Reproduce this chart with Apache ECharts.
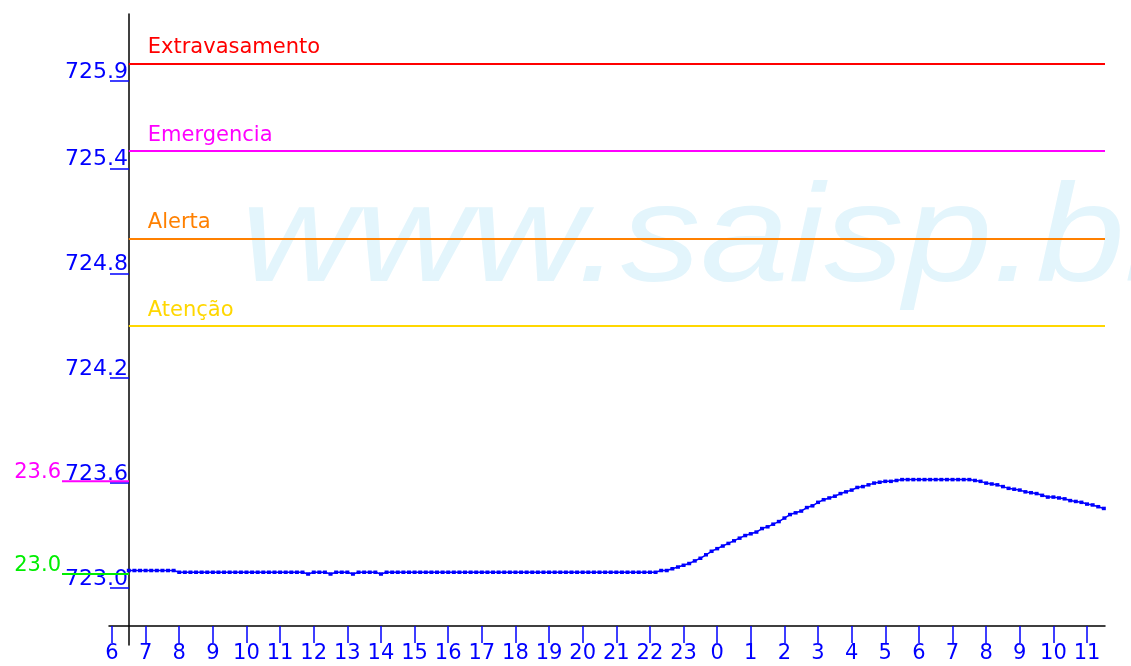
<!DOCTYPE html>
<html><head><meta charset="utf-8">
<script src="https://cdn.jsdelivr.net/npm/echarts@6/dist/echarts.min.js"></script>
<style>html,body{margin:0;padding:0;background:#fff}#c{width:1131px;height:666px}</style>
</head><body><div id="c"></div>
<script>
// time of first reading (hours since 00:00 of day 1) and spacing (10 min)
const startHour = 6.5;
const stepHours = 1 / 6;
// water level readings (m), one row per hour
const levels = [
  723.10, 723.10, 723.10,                               // 06:30-06:50
  723.10, 723.10, 723.10, 723.10, 723.10, 723.10,       // 07
  723.09, 723.09, 723.09, 723.09, 723.09, 723.09,       // 08
  723.09, 723.09, 723.09, 723.09, 723.09, 723.09,       // 09
  723.09, 723.09, 723.09, 723.09, 723.09, 723.09,       // 10
  723.09, 723.09, 723.09, 723.09, 723.09, 723.08,       // 11
  723.09, 723.09, 723.09, 723.08, 723.09, 723.09,       // 12
  723.09, 723.08, 723.09, 723.09, 723.09, 723.09,       // 13
  723.08, 723.09, 723.09, 723.09, 723.09, 723.09,       // 14
  723.09, 723.09, 723.09, 723.09, 723.09, 723.09,       // 15
  723.09, 723.09, 723.09, 723.09, 723.09, 723.09,       // 16
  723.09, 723.09, 723.09, 723.09, 723.09, 723.09,       // 17
  723.09, 723.09, 723.09, 723.09, 723.09, 723.09,       // 18
  723.09, 723.09, 723.09, 723.09, 723.09, 723.09,       // 19
  723.09, 723.09, 723.09, 723.09, 723.09, 723.09,       // 20
  723.09, 723.09, 723.09, 723.09, 723.09, 723.09,       // 21
  723.09, 723.09, 723.10, 723.10, 723.11, 723.12,       // 22
  723.13, 723.14, 723.155, 723.17, 723.19, 723.21,      // 23
  723.225, 723.24, 723.255, 723.27, 723.285, 723.30,    // 00
  723.31, 723.32, 723.34, 723.35, 723.365, 723.38,      // 01
  723.40, 723.42, 723.43, 723.44, 723.46, 723.47,       // 02
  723.49, 723.505, 723.515, 723.525, 723.54, 723.55,    // 03
  723.56, 723.575, 723.58, 723.59, 723.60, 723.605,     // 04
  723.61, 723.61, 723.615, 723.62, 723.62, 723.62,      // 05
  723.62, 723.62, 723.62, 723.62, 723.62, 723.62,       // 06
  723.62, 723.62, 723.62, 723.62, 723.615, 723.61,      // 07
  723.60, 723.595, 723.59, 723.58, 723.57, 723.565,     // 08
  723.56, 723.55, 723.545, 723.54, 723.53, 723.52,      // 09
  723.52, 723.515, 723.51, 723.50, 723.495, 723.49,     // 10
  723.48, 723.475, 723.465, 723.455                     // 11:00-11:30
];
const yTickValues = [723.0, 723.6, 724.2, 724.8, 725.4, 725.9];
const xTickHours = [6,7,8,9,10,11,12,13,14,15,16,17,18,19,20,21,22,23,24,25,26,27,28,29,30,31,32,33,34,35];
const levelNames = ['Extravasamento', 'Emergencia', 'Alerta', 'Atenção'];
const levelValues = [726.0, 725.5, 725.0, 724.5];
const levelColors = ['#ff0000', '#ff00ff', '#ff8000', '#ffd700'];
const extremeLabels = ['23.6', '23.0'];
const extremeValues = [723.61, 723.08];
const extremeColors = ['#ff00ff', '#00ee00'];
const watermark = 'www.saisp.br';

const FONT = 'DejaVu Sans';
const BLUE = '#0000ff';
const xMin = 5.911, xMax = 35.535;
const yMin = 722.674, yMax = 726.283;

const chart = echarts.init(document.getElementById('c'), null, {renderer: 'canvas'});
const seriesData = levels.map((v, i) => [startHour + i * stepHours, v]);

chart.setOption({
  animation: false,
  backgroundColor: '#ffffff',
  grid: {left: 109, right: 26, top: 14, bottom: 21, containLabel: false},
  xAxis: {
    type: 'value', min: xMin, max: xMax, position: 'bottom', offset: -19,
    axisLine: {onZero: false, lineStyle: {color: '#000', width: 1.5}},
    axisTick: {show: true, length: 17, inside: false, customValues: xTickHours, lineStyle: {color: BLUE, width: 1.5}},
    axisLabel: {customValues: xTickHours, margin: 17, color: BLUE, fontFamily: FONT, fontSize: 21,
      formatter: v => String(Math.round(v) % 24)},
    splitLine: {show: false}
  },
  yAxis: {
    type: 'value', min: yMin, max: yMax, position: 'left', offset: -20,
    axisLine: {show: true, onZero: false, lineStyle: {color: '#000', width: 1.5}},
    axisTick: {show: true, length: 19, customValues: yTickValues, lineStyle: {color: BLUE, width: 1.5}},
    axisLabel: {customValues: yTickValues, margin: 1, color: BLUE, fontFamily: FONT, fontSize: 22,
      verticalAlign: 'bottom', padding: [0, 0, -2, 0], formatter: v => v.toFixed(1)},
    splitLine: {show: false}
  },
  series: [{
    type: 'line',
    data: seriesData,
    symbol: 'rect', symbolSize: [4, 3.5], showSymbol: true,
    itemStyle: {color: BLUE},
    lineStyle: {color: BLUE, width: 1.5},
    z: 5,
    markLine: {
      silent: true, symbol: 'none', animation: false, z: 3,
      data: levelValues.map((v, i) => [
        {name: levelNames[i], coord: [startHour, v],
         lineStyle: {color: levelColors[i], width: 2, type: 'solid'},
         label: {show: true, position: 'insideStartTop', formatter: '{b}', color: levelColors[i],
                 fontFamily: FONT, fontSize: 21, distance: [19, 5]}},
        {coord: [xMax, v]}
      ])
    }
  }]
});

// watermark + max/min annotations positioned through the axis scale
const graphics = [{
  type: 'text', z: -10, silent: true, x: 241, y: 242, scaleX: 1, scaleY: 0.875,
  style: {text: watermark, x: 0, y: 0, font: 'italic 159px "Liberation Sans"', fill: '#e3f5fc',
          verticalAlign: 'middle', align: 'left'}
}];
extremeValues.forEach((v, i) => {
  const py = chart.convertToPixel({yAxisIndex: 0}, v);
  graphics.push({type: 'line', z: 10, silent: true,
    shape: {x1: 62, y1: py, x2: 129, y2: py}, style: {stroke: extremeColors[i], lineWidth: 2}});
  graphics.push({type: 'text', z: 10, silent: true,
    style: {text: extremeLabels[i], x: 61, y: py + 2, align: 'right', verticalAlign: 'bottom',
            font: '21px "' + FONT + '"', fill: extremeColors[i]}});
});
chart.setOption({graphic: graphics});
</script>
</body></html>
